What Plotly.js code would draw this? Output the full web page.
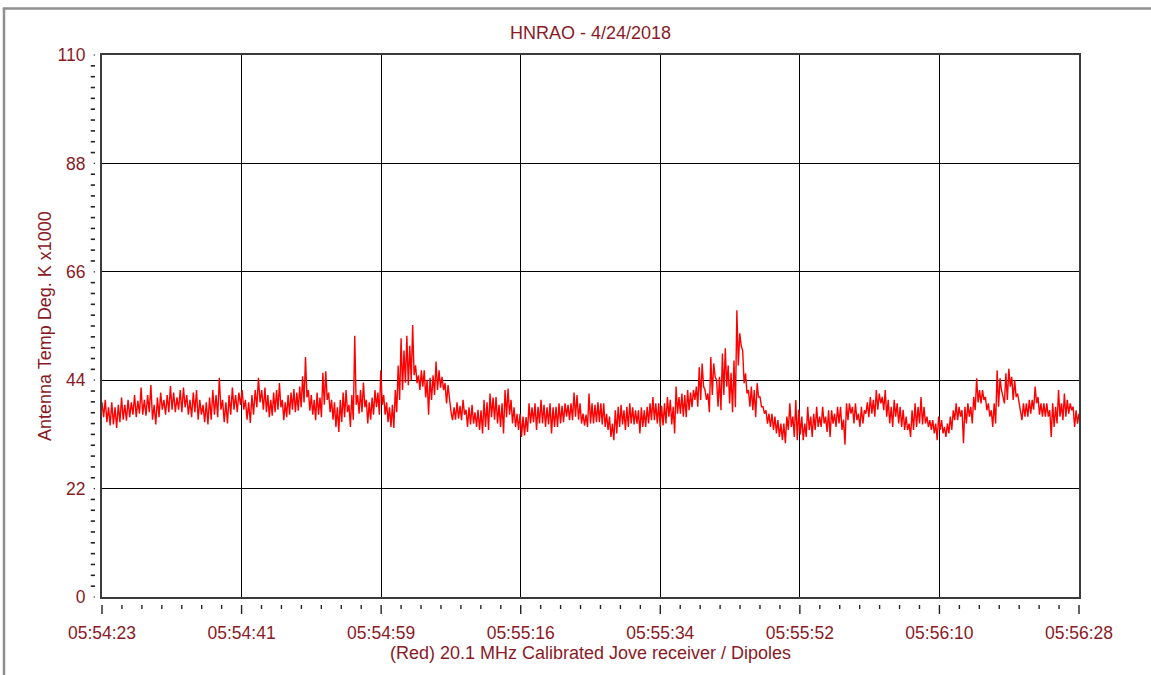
<!DOCTYPE html>
<html><head><meta charset="utf-8">
<script src="https://cdn.plot.ly/plotly-3.0.1.min.js"></script>
<style>html,body{margin:0;padding:0;background:#fff;overflow:hidden;} #chart{width:1151px;height:675px;}</style>
</head><body><div id="chart"></div>
<script>
// ---------------- DATA ----------------
const chartTitle = 'HNRAO - 4/24/2018';
const xAxisTitle = '(Red) 20.1 MHz Calibrated Jove receiver / Dipoles';
const yAxisTitle = 'Antenna Temp Deg. K x1000';
const timeTickLabels = ['05:54:23','05:54:41','05:54:59','05:55:16','05:55:34','05:55:52','05:56:10','05:56:28'];
const tempTickValues = [0, 22, 44, 66, 88, 110];
const spanSeconds = 125;               // 05:54:23 -> 05:56:28
const segmentStartSec = [0, 20.85, 41.97, 63.08, 84.19, 105.17];

// Antenna temperature (K x1000)
const tempSeg1 = [39.5,36.5, 40,35.5, 38.5,34.8, 39.5,35, 38.5,34.3, 39,35.5, 40.5,36, 39,35.8, 40,36.5, 39.5,37,
  41,36.5, 39.8,37.2, 42.5,37, 40,36.8, 41,37.5, 43,36, 39,35, 40.5,36.5, 41.5,38, 40,37,
  41,37.5, 42.8,38, 41.5,37.5, 40.5,38, 42,37.5, 42.5,38.5, 41,37, 40,36.5, 41.5,37.5, 42,36,
  40,37, 39,35.5, 39.5,35, 40.5,36, 42,37, 41,36.5, 44.5,38, 40,35.5, 39.5,35.2, 41,37,
  42.5,38, 41,37.5, 41.5,39, 42,38, 40,36, 39.5,35.3, 41,37, 42,38.5, 44.5,39.5, 42,38];
const tempSeg2 = [42.5,37.5, 41,36.5, 40,36.8, 41.5,37.5, 42,38, 43.4,38.5, 40,35.9, 39.5,36.5, 41,37, 41.5,38,
  42.2,37.5, 41.5,37.8, 42.7,38.5, 44.8,39.5, 48.7,40.5, 42,37.8, 41,37, 40,35.9, 41.5,37, 40.5,36.5,
  45.5,39, 45.8,40, 41.5,37.5, 40,36, 39.5,34.5, 38.5,33.5, 40,35.5, 41.5,36.5, 42,37.5, 39,34.5,
  41,36, 53,39, 41,37.2, 42,37.5, 43.5,38.5, 40,35.2, 39.5,36, 40.5,37, 42,38.5, 41.5,37,
  46,39, 41,37, 39.5,35.5, 38.5,34.5, 39,34.3, 42,37.5, 47,40, 52.5,42, 50,43.5, 53,43,
  51,44, 55.2,45, 47,43.4, 45,42, 46,42.7, 46,40.5, 44,37];
const tempSeg3 = [44.5,40, 45,41, 47.8,42, 46,42.5, 44.7,42, 43.4,39.3, 43,40, 37.5,35.9, 38.5,36, 39.5,36.2,
  38.8,35.9, 40,37, 38,34.5, 38.5,35, 39,35.2, 37.5,34.5, 38,33.9, 37.9,33.2, 40,34.5, 39.5,33.9,
  41.3,36.5, 40.5,36, 40.6,35.2, 39,34.5, 39.3,33.2, 42,36.5, 42.3,37, 40,35.2, 38.5,34.5, 37.2,33.9,
  37.2,32.5, 36.6,32.8, 36.5,33.5, 39.3,35.2, 38.5,35.5, 39.3,33.9, 38.6,35.2, 40,35.2, 39,34.5, 38.5,35,
  39.3,33.2, 38.5,34.5, 38.6,34.5, 39.3,35.2, 38.8,35.5, 39.3,36.6, 39,35.9, 39.3,35.9, 41.5,36.6, 41,36,
  39.3,35.2, 37.2,34.8, 37,34.5, 41.3,35.2, 39.3,35.2];
const tempSeg4 = [39,35.5, 39.5,35.5, 39.3,35, 39.3,34.5, 37.2,33.9, 36.6,32.5, 35.2,31.8, 37.9,33.2, 38.6,34.5, 39,35,
  37.9,33.9, 38.6,34.5, 39.3,35.2, 38.5,35, 37.9,35.2, 37.9,33.2, 38.5,34.5, 37.9,34.5, 38.6,35.2, 39.3,35.9,
  40.6,35.9, 39.3,35.2, 39.3,34.5, 38.8,34.8, 39.3,35.2, 40.6,36.6, 40,35, 38.6,33.2, 42.7,37.2, 40.6,37.2,
  41.3,36.6, 41,36.5, 42,37.9, 41.5,38.5, 42,40, 42.7,38.6, 46.6,40, 47.4,42.7, 42,40, 41.3,37.5,
  48.7,41, 47.4,44.7, 44,38.6, 44.7,37.9, 49.4,41, 50.5,42.7, 47,39.3, 45.5,37.5, 48,38.5, 58.2,47,
  53.5,51, 50,43.4, 45.4,41.3, 42,38.6, 42.7,37.9, 42,36.5, 43.4,40.6];
const tempSeg5 = [40.6,38.6, 38.6,37.2, 37.9,35.2, 37.2,34.5, 37.2,33.9, 36.6,33.2, 35.9,32.5, 35.2,31.8, 35.2,31.2, 36.6,33.9,
  39.3,34.5, 36.6,32.5, 40,31.8, 38,33, 36.6,31.8, 35.2,32.5, 38.6,33.9, 36.6,32.5, 37.2,33.9, 38.6,34.5,
  36.6,34.5, 38.6,35.2, 36.6,33.5, 37.9,32.5, 37.9,35.2, 37.2,34.5, 38.6,35.2, 38.6,33.9, 36,30.9, 39.3,35.9,
  39.3,37.2, 38.6,35.2, 39.3,35.9, 37.2,34.5, 38.6,35.2, 37.9,37.2, 39.5,36.5, 40.6,37.2, 40,36.6, 42,38,
  41.3,39.3, 40.6,37.9, 42,36.6, 40,35.2, 38.6,34.5, 40,36.6, 39.3,35.2, 38.6,34.5, 38,33.9, 36.6,33.9,
  35.2,32.5, 37.9,33.9, 39.3,34.5, 38.6,35.2, 40.6,35];
const tempSeg6 = [38.6,35.2, 36.6,34.5, 35.9,33.9, 35.9,33.2, 35.2,31.8, 36.6,33.9, 35.9,33.2, 34.5,32.5, 35.2,33.2, 36.6,33.9,
  37.9,35.9, 39.3,35.9, 38.6,36.6, 37.9,31.2, 38.6,35.2, 39.3,36.6, 38.6,35.2, 40.6,37.9, 44.4,39.5, 42,39.3,
  42,40, 40.6,37.9, 39.3,36.6, 37.9,34.5, 39.3,35.2, 46,38.6, 44.4,42, 40.6,39.3, 45.4,40, 46.3,42.7,
  44.7,40, 44,40.6, 41.3,39.3, 37.9,35.9, 39.3,36.6, 39.3,36.6, 40,37.2, 40,38, 42.7,39.3, 40.6,37,
  39.3,36.6, 39.3,36.6, 39.3,36.6, 37.9,32.5, 39.3,34.5, 38.6,35.2, 42,36.6, 39.3,35.9, 41.3,36.6, 40,37.2,
  39.3,37.9, 38.6,34.5, 37.9,35.2, 37.2];

// ---------------- BUILD ----------------
const segments = [tempSeg1, tempSeg2, tempSeg3, tempSeg4, tempSeg5, tempSeg6];
const tSec = [], temp = [];
segments.forEach((seg, i) => {
  const t0 = segmentStartSec[i];
  const t1 = i + 1 < segmentStartSec.length ? segmentStartSec[i + 1] : spanSeconds;
  const last = i === segments.length - 1;
  const n = last ? seg.length - 1 : seg.length;
  seg.forEach((v, k) => { tSec.push(t0 + (t1 - t0) * k / n); temp.push(v); });
});

const xTickVals = timeTickLabels.map((_, i) => i * spanSeconds / (timeTickLabels.length - 1));

const textColor = '#8a1a26';
const fontFam = '"Liberation Sans", Arial, sans-serif';

const shapes = [];
// outer window frame (left and top)
shapes.push({type:'line', xref:'paper', yref:'paper', x0:-0.1003, x1:-0.1003, y0:-0.15, y1:1.0867, line:{color:'#8f8f8f', width:2.5}});
shapes.push({type:'line', xref:'paper', yref:'paper', x0:-0.1015, x1:1.08, y0:1.0858, y1:1.0858, line:{color:'#8f8f8f', width:2.5}});
// y axis detached ticks (minor every 2.2)
for (let k = 0; k <= 50; k++) {
  const yp = k / 50;
  const major = k % 10 === 0;
  shapes.push({type:'line', xref:'paper', yref:'paper', x0: major ? -0.0085 : -0.0115, x1: -0.0072, y0: yp, y1: yp,
    line:{color:'#222', width: major ? 1.2 : 1.6}});
}
// x axis detached ticks
const nMinorX = (timeTickLabels.length - 1) * 7;
for (let k = 0; k <= nMinorX; k++) {
  const xp = k / nMinorX;
  const major = k % 7 === 0;
  shapes.push({type:'line', xref:'paper', yref:'paper', x0: xp, x1: xp, y0: -0.0148, y1: major ? -0.0314 : -0.0221,
    line:{color:'#222', width: 1.4}});
}

const trace = {
  x: tSec, y: temp, type: 'scatter', mode: 'lines',
  line: {color: '#ff0000', width: 1.4},
  hoverinfo: 'skip'
};

const layout = {
  width: 1151, height: 675,
  margin: {l: 102, r: 72, t: 55, b: 78},
  paper_bgcolor: '#ffffff', plot_bgcolor: '#ffffff',
  showlegend: false,
  font: {family: fontFam, color: textColor, size: 17.5},
  title: {text: chartTitle, font: {family: fontFam, size: 18, color: textColor},
    xref: 'paper', x: 0.5, xanchor: 'center', yref: 'container', y: 0.951, yanchor: 'middle'},
  xaxis: {
    range: [0, spanSeconds], tickmode: 'array', tickvals: xTickVals, ticktext: timeTickLabels,
    ticks: '', ticklabelstandoff: 19, tickfont: {size: 17.5, color: textColor},
    showgrid: true, gridcolor: '#000000', gridwidth: 1.2,
    showline: true, linecolor: '#3a3a3a', linewidth: 2, mirror: true, zeroline: false,
    title: {text: xAxisTitle, font: {size: 18, color: textColor}, standoff: 0},
    fixedrange: true
  },
  yaxis: {
    range: [0, 110], tickmode: 'array', tickvals: tempTickValues,
    ticks: '', ticklabelstandoff: 11, tickfont: {size: 17.5, color: textColor},
    showgrid: true, gridcolor: '#000000', gridwidth: 1.2,
    showline: true, linecolor: '#3a3a3a', linewidth: 2, mirror: true, zeroline: false,
    fixedrange: true
  },
  annotations: [{
    text: yAxisTitle, textangle: -90, xref: 'paper', yref: 'paper', x: -0.0583, y: 0.5,
    xanchor: 'center', yanchor: 'middle', showarrow: false,
    font: {family: fontFam, size: 18, color: textColor}
  }],
  shapes: shapes
};

Plotly.newPlot('chart', [trace], layout, {displayModeBar: false, staticPlot: true});
</script>
</body></html>
